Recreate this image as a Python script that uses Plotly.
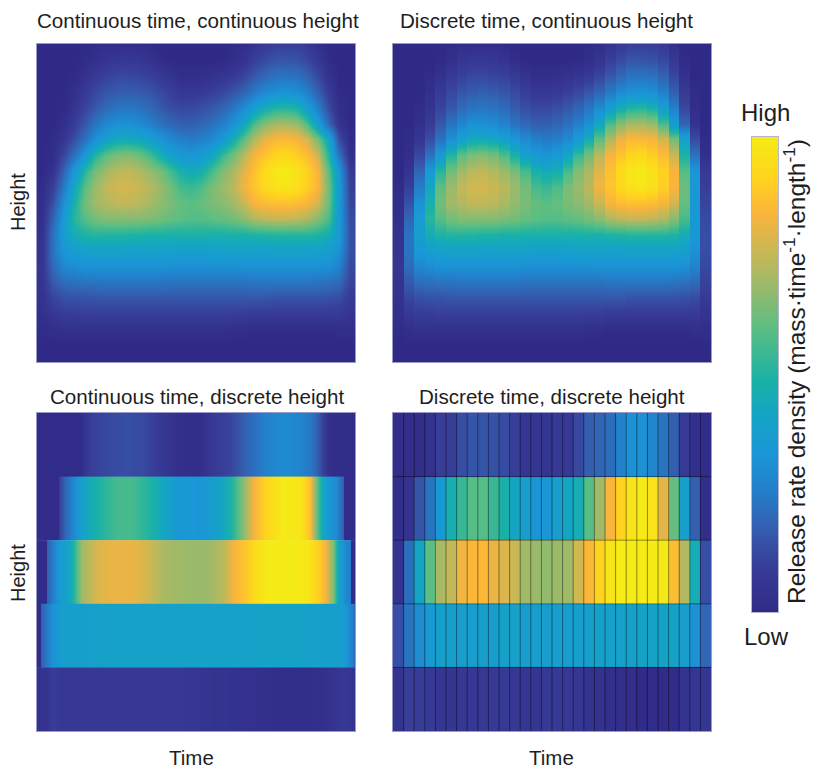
import plotly.graph_objects as go

W, H = 828, 761   # the page adds an 8 px body margin on the top and left
PAD = 8

# Time bins (30 equal bins, centres and edges in unit time)
n_time = 30
time_edges = [i / n_time for i in range(n_time + 1)]
time_centres = [(i + 0.5) / n_time for i in range(n_time)]

# Continuous-height density: rows from top of panel to bottom
height_levels = [0, .05, .1, .15, .2, .25, .3, .35, .4, .45, .5, .55, .6, .65, .7, .75, .8, .85, .9, .95, 1]
density = [
    [0,0,0,0,0,.01,.02,.02,.02,.02,.01,0,0,0,0,0,0,0,.01,.02,.05,.08,.1,.1,.1,.08,.03,0,0,0],
    [0,0,0,0,.01,.03,.06,.07,.07,.07,.05,.02,0,0,0,0,0,0,.02,.05,.1,.14,.17,.17,.16,.13,.07,.01,0,0],
    [0,0,0,.01,.04,.08,.11,.13,.13,.12,.11,.08,.05,.02,.02,.03,.04,.06,.08,.12,.18,.23,.27,.27,.26,.21,.13,.04,0,0],
    [0,0,0,.03,.08,.13,.17,.19,.2,.19,.17,.14,.1,.07,.07,.08,.1,.13,.17,.22,.29,.35,.38,.39,.37,.31,.2,.08,.01,0],
    [0,0,.01,.05,.12,.18,.24,.27,.28,.27,.24,.19,.15,.13,.13,.15,.18,.22,.28,.36,.46,.53,.57,.58,.55,.45,.31,.13,.02,0],
    [0,0,.03,.09,.18,.27,.34,.38,.38,.36,.32,.27,.23,.2,.2,.22,.26,.31,.38,.5,.63,.71,.75,.75,.73,.63,.44,.22,.05,0],
    [0,.01,.06,.15,.26,.38,.47,.51,.52,.5,.47,.41,.35,.31,.29,.31,.35,.43,.53,.65,.76,.83,.86,.86,.85,.8,.68,.48,.14,.01],
    [0,.02,.13,.26,.42,.57,.65,.69,.7,.68,.63,.55,.47,.42,.4,.43,.5,.6,.68,.77,.85,.89,.93,.94,.91,.87,.79,.56,.26,.03],
    [0,.05,.22,.42,.58,.68,.74,.77,.78,.76,.73,.69,.62,.55,.52,.54,.62,.7,.75,.82,.88,.95,.99,1,.97,.92,.85,.64,.4,.08],
    [.01,.1,.3,.5,.65,.73,.78,.8,.8,.79,.77,.73,.68,.62,.6,.63,.69,.73,.77,.84,.89,.94,.97,.98,.96,.91,.85,.67,.42,.1],
    [.02,.16,.38,.55,.68,.74,.76,.78,.78,.77,.75,.72,.69,.66,.65,.66,.69,.71,.74,.79,.85,.87,.88,.88,.87,.85,.8,.66,.42,.12],
    [.03,.22,.44,.58,.64,.68,.7,.7,.7,.7,.69,.68,.66,.65,.64,.64,.65,.66,.68,.71,.75,.77,.78,.78,.77,.75,.7,.62,.42,.14],
    [.04,.27,.45,.53,.56,.57,.57,.57,.56,.56,.55,.55,.55,.55,.55,.55,.55,.55,.55,.55,.56,.56,.57,.57,.57,.57,.56,.53,.42,.15],
    [.05,.27,.41,.45,.47,.47,.47,.47,.47,.47,.47,.47,.47,.46,.46,.46,.47,.47,.47,.47,.47,.47,.47,.47,.47,.47,.47,.45,.38,.15],
    [.06,.24,.34,.36,.38,.38,.38,.38,.38,.38,.38,.38,.37,.37,.37,.37,.37,.37,.37,.38,.38,.38,.38,.38,.38,.38,.38,.37,.32,.13],
    [.05,.18,.24,.25,.26,.26,.27,.27,.27,.27,.27,.27,.26,.26,.26,.26,.26,.26,.26,.26,.27,.27,.27,.27,.27,.27,.26,.25,.23,.11],
    [.04,.12,.15,.16,.16,.17,.17,.17,.17,.17,.17,.17,.17,.17,.17,.17,.17,.17,.17,.17,.17,.17,.16,.16,.16,.16,.16,.15,.14,.08],
    [.03,.07,.09,.09,.1,.1,.1,.1,.1,.1,.1,.1,.1,.1,.1,.1,.1,.1,.09,.09,.08,.08,.08,.08,.08,.08,.08,.08,.08,.05],
    [.01,.02,.03,.03,.03,.03,.03,.03,.03,.03,.03,.03,.03,.03,.03,.03,.03,.03,.02,.02,.01,.01,.01,.01,.01,.01,.01,.01,.02,.02],
    [0,0,0,0,0,0,0,0,0,0,0,0,0,0,0,0,0,0,0,0,0,0,0,0,0,0,0,0,0,0],
    [0,0,0,0,0,0,0,0,0,0,0,0,0,0,0,0,0,0,0,0,0,0,0,0,0,0,0,0,0,0],
]

# Discrete-height, discrete-time density: five height bins, top to bottom
band_1 = [.02,.02,.02,.04,.1,.1,.15,.17,.17,.16,.14,.1,.06,.06,.06,.08,.07,.13,.2,.22,.25,.32,.38,.38,.33,.27,.2,.08,.03,.01]
band_2 = [.02,.05,.17,.27,.42,.54,.6,.64,.64,.6,.55,.5,.45,.4,.4,.45,.5,.53,.64,.74,.85,.92,.98,1,.97,.82,.66,.46,.2,.02]
band_3 = [.05,.25,.5,.65,.75,.78,.84,.86,.86,.83,.81,.79,.74,.73,.72,.73,.74,.8,.86,.92,.98,1,1,1,1,.99,.87,.76,.53,.15]
band_4 = [.15,.27,.36,.43,.46,.46,.45,.45,.45,.45,.47,.47,.45,.45,.45,.45,.45,.45,.46,.47,.47,.47,.47,.48,.48,.48,.48,.45,.38,.22]
band_5 = [.05,.1,.09,.08,.06,.06,.07,.07,.07,.08,.08,.07,.06,.06,.07,.08,.07,.06,.05,.04,.03,.02,.02,.01,.01,.01,.01,.05,.06,.06]
bands = [band_1, band_2, band_3, band_4, band_5]
band_edges = [0, .2, .4, .6, .8, 1]

# Continuous-time, discrete-height density: time knots and values for each height bin
ct_time_1 = [0, .136, .168, .22, .28, .335, .39, .44, .51, .555, .607, .66, .72, .775, .83, .87, .9, .92, 1]
ct_dens_1 = [.01, .01, .1, .13, .15, .13, .07, .03, .02, .08, .12, .22, .32, .36, .33, .25, .1, .02, .01]
ct_time_2 = [0, .066, .068, .09, .147, .2, .25, .3, .357, .41, .44, .51, .565, .607, .64, .68, .72, .775, .83, .86, .88, .895, .916, .94, .962, .964, 1]
ct_dens_2 = [.01, .01, .1, .24, .5, .57, .62, .62, .56, .48, .42, .4, .47, .55, .68, .84, .93, 1, .98, .87, .65, .52, .42, .35, .2, .01, .01]
ct_time_3 = [0, .029, .031, .068, .1, .12, .14, .19, .23, .3, .345, .4, .47, .535, .585, .62, .66, .69, .73, .805, .85, .88, .905, .93, .948, .97, .984, .986, 1]
ct_dens_3 = [.01, .01, .2, .42, .5, .6, .74, .81, .83, .83, .8, .75, .73, .73, .77, .85, .9, .96, 1, 1, .99, .92, .85, .7, .5, .35, .3, .01, .01]
ct_time_4 = [0, .011, .013, .042, .073, .2, .5, .8, .963, .99, .998, 1]
ct_dens_4 = [.01, .01, .2, .35, .45, .47, .47, .48, .45, .3, .25, .02]
ct_time_5 = [0, .03, .05, .07, .2, .45, .62, .8, .9, .96, 1]
ct_dens_5 = [.04, .05, .1, .07, .07, .07, .04, .02, .03, .07, .05]
ct_times = [ct_time_1, ct_time_2, ct_time_3, ct_time_4, ct_time_5]
ct_dens = [ct_dens_1, ct_dens_2, ct_dens_3, ct_dens_4, ct_dens_5]

# Colour-bar gradient (Low to High)
bar_levels = [0, .1, .18, .25, .335, .42, .49, .6, .71, .84, .91, 1]

panel_titles = ["Continuous time, continuous height", "Discrete time, continuous height",
                "Continuous time, discrete height", "Discrete time, discrete height"]

colorscale = [
    [0.00, "rgb(48,42,135)"], [0.10, "rgb(56,62,152)"], [0.20, "rgb(52,95,176)"],
    [0.30, "rgb(36,125,200)"], [0.40, "rgb(26,150,215)"], [0.50, "rgb(20,165,195)"],
    [0.56, "rgb(27,178,165)"], [0.65, "rgb(92,190,130)"], [0.75, "rgb(170,185,100)"],
    [0.85, "rgb(250,180,60)"], [0.92, "rgb(255,210,32)"], [1.00, "rgb(245,235,22)"],
]
bar_colorscale = [[lv, c[1]] for lv, c in zip(bar_levels, colorscale)]

def xd(a, b): return [(a - PAD) / W, (b - PAD) / W]
def yd(a, b): return [1 - (b - PAD) / H, 1 - (a - PAD) / H]

def stepped(edges, eps=1e-4):
    """Doubled coordinates so the smoothing stays inside each bin."""
    out = []
    for a, b in zip(edges[:-1], edges[1:]):
        out += [a + eps, b - eps]
    return out

fig = go.Figure()
ca = "coloraxis"

# Top-left: smooth in both directions
fig.add_trace(go.Heatmap(x=time_centres, y=height_levels, z=density, zsmooth="best",
                         coloraxis=ca, xaxis="x", yaxis="y"))

# Top-right: steps in time, smooth in height
fig.add_trace(go.Heatmap(x=stepped(time_edges), y=height_levels,
                         z=[[v for v in row for _ in (0, 1)] for row in density], zsmooth="best",
                         coloraxis=ca, xaxis="x2", yaxis="y2"))

# Bottom-left: smooth in time, steps in height
for j in range(5):
    a, b = band_edges[j], band_edges[j + 1]
    fig.add_trace(go.Heatmap(x=ct_times[j], y=[a, (a + b) / 2, b], z=[ct_dens[j], ct_dens[j]], zsmooth="best",
                             coloraxis=ca, xaxis="x3", yaxis="y3"))

# Bottom-right: cells, with thin translucent lines along the bin edges
fig.add_trace(go.Heatmap(x=time_edges, y=band_edges, z=bands,
                         coloraxis=ca, xaxis="x4", yaxis="y4"))
grid_x, grid_y = [], []
for e in time_edges[1:-1]:
    grid_x += [e, e, None]
    grid_y += [0, 1, None]
for e in band_edges[1:-1]:
    grid_x += [0, 1, None]
    grid_y += [e, e, None]
fig.add_trace(go.Scatter(x=grid_x, y=grid_y, mode="lines", hoverinfo="skip",
                         line=dict(color="rgba(0,0,0,0.42)", width=1), xaxis="x4", yaxis="y4"))

# Colour bar: its own narrow heatmap, Low at the bottom and High at the top
fig.add_trace(go.Heatmap(x=[0, 1], y=bar_levels, z=[[v, v] for v in bar_levels], zsmooth="best",
                         coloraxis="coloraxis2", xaxis="x5", yaxis="y5", hoverinfo="skip"))

frame = dict(showticklabels=False, ticks="", showgrid=False, zeroline=False,
             showline=True, linecolor="#9a9ac8", linewidth=1, mirror=True)
xdoms = [xd(37, 355), xd(393, 711), xd(37, 355), xd(393, 711)]
ydoms = [yd(44, 362), yd(44, 362), yd(413, 731), yd(413, 731)]
layout = {}
for k in range(4):
    s = "" if k == 0 else str(k + 1)
    layout["xaxis" + s] = dict(frame, domain=xdoms[k], range=[0, 1], anchor="y" + s)
    layout["yaxis" + s] = dict(frame, domain=ydoms[k], range=[1, 0], anchor="x" + s)
layout["xaxis5"] = dict(frame, domain=xd(752, 778), range=[0, 1], anchor="y5", linecolor="#b5b5cc")
layout["yaxis5"] = dict(frame, domain=yd(137, 612), range=[0, 1], anchor="x5", linecolor="#b5b5cc")

txt = dict(family="Liberation Sans, Arial, sans-serif", color="#1e1e1e")
def label(s, x, y, size, angle=0):
    return dict(text=s, x=(x - PAD) / W, y=1 - (y - PAD) / H, xref="paper", yref="paper", showarrow=False,
                textangle=angle, xanchor="center", yanchor="middle", font=dict(txt, size=size))

annotations = [
    label(panel_titles[0], 198, 20, 20.6),
    label(panel_titles[1], 546, 20, 20.6),
    label(panel_titles[2], 197, 396, 20.6),
    label(panel_titles[3], 552, 396, 20.6),
    label("Height", 18, 202, 20, -90),
    label("Height", 18, 573, 20, -90),
    label("Time", 191, 757, 20.5),
    label("Time", 551, 757, 20.5),
    label("High", 765, 113, 24),
    label("Low", 766, 636, 24),
    label("Release rate density (mass·time<sup>-1</sup>·length<sup>-1</sup>)", 795, 372, 24.5, -90),
]

fig.update_layout(
    width=W, height=H, margin=dict(l=0, r=0, t=0, b=0), autosize=False,
    paper_bgcolor="white", plot_bgcolor="white", showlegend=False,
    annotations=annotations,
    coloraxis=dict(cmin=0, cmax=1, colorscale=colorscale, showscale=False),
    coloraxis2=dict(cmin=0, cmax=1, colorscale=bar_colorscale, showscale=False),
    **layout,
)
fig.write_html("out.html")
